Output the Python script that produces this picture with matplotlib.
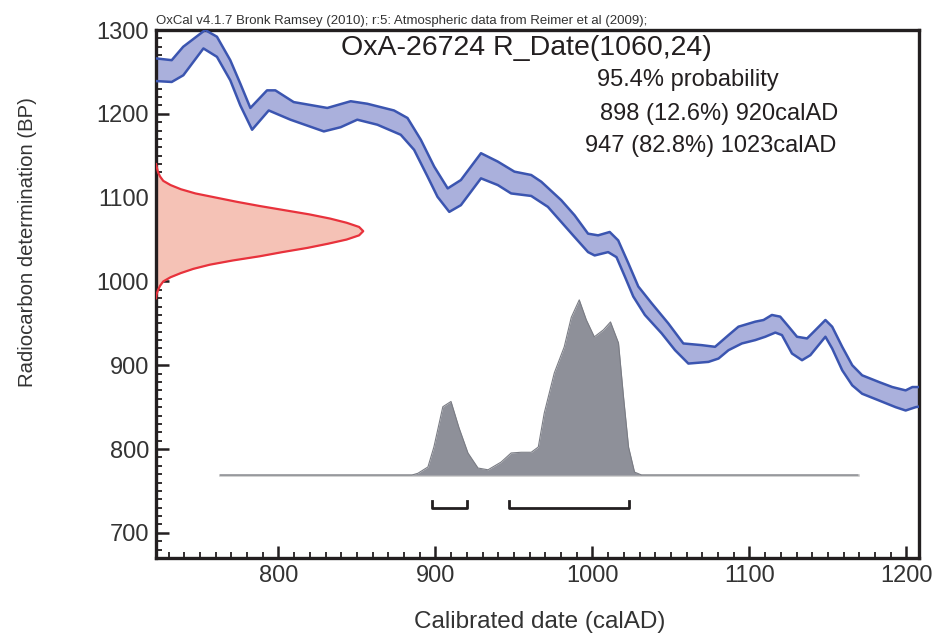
import numpy as np
import matplotlib
matplotlib.use("Agg")
from matplotlib import pyplot as plt
from matplotlib.ticker import MultipleLocator

plt.rcParams['font.family'] = ['Liberation Sans', 'DejaVu Sans']

# calibration curve (IntCal09), upper edge of the band
upper_year = [722.6, 732.0, 739.3, 753.3, 760.8, 769.3, 775.7, 782.1, 792.7, 798.0, 809.7, 831.1,
              846.0, 856.6, 865.1, 873.6, 882.2, 890.7, 899.2, 907.8, 916.2, 929.0, 939.7, 950.3,
              961.0, 967.4, 980.1, 988.6, 997.2, 1003.6, 1011.0, 1016.4, 1022.8, 1029.2, 1037.7,
              1048.3, 1057.9, 1069.6, 1078.1, 1086.7, 1093.0, 1103.7, 1109.0, 1114.3, 1119.6,
              1125.0, 1130.3, 1136.7, 1141.0, 1148.4, 1152.7, 1159.1, 1165.5, 1171.8, 1182.5,
              1191.0, 1199.5, 1203.8, 1209.1]
upper_bp = [1266, 1264, 1280, 1300, 1292, 1264, 1236, 1207, 1228, 1228, 1214, 1207,
            1215, 1212, 1208, 1204, 1195, 1169, 1137, 1111, 1121, 1153, 1143, 1131,
            1127, 1119, 1097, 1079, 1057, 1055, 1059, 1049, 1022, 994, 974,
            950, 926, 924, 922, 936, 946, 952, 954, 960, 958,
            946, 934, 932, 940, 954, 946, 922, 900, 888, 880,
            874, 870, 874, 874]

# lower edge of the band
lower_year = [722.6, 732.0, 739.4, 752.2, 760.8, 769.3, 775.7, 783.2, 793.8, 807.6, 828.9, 839.6,
              850.2, 863.0, 877.9, 886.4, 895.0, 901.3, 908.8, 916.2, 929.0, 939.7, 948.2, 961.0,
              971.6, 980.1, 988.6, 997.2, 1001.4, 1010.0, 1015.3, 1020.6, 1026.0, 1033.4, 1044.1,
              1052.6, 1061.1, 1073.9, 1080.3, 1086.7, 1095.2, 1103.7, 1110.1, 1116.5, 1120.7,
              1127.1, 1133.5, 1138.8, 1148.4, 1152.7, 1159.1, 1165.5, 1171.8, 1182.5, 1193.1,
              1199.5, 1205.9, 1209.1]
lower_bp = [1239, 1238, 1246, 1278, 1268, 1240, 1210, 1181, 1204, 1193, 1179, 1184,
            1193, 1187, 1175, 1157, 1125, 1101, 1083, 1091, 1123, 1115, 1105, 1102,
            1089, 1071, 1053, 1035, 1031, 1035, 1029, 1006, 982, 960, 938,
            918, 902, 904, 908, 918, 926, 930, 934, 939, 936,
            914, 906, 912, 934, 920, 894, 876, 866, 858, 850,
            846, 850, 851]

# radiocarbon measurement 1060 +/- 24 BP (relative probability)
rc_bp = [1140, 1135, 1130, 1125, 1120, 1115, 1110, 1105, 1100, 1095, 1090, 1085, 1080, 1075, 1070,
         1065, 1060, 1055, 1050, 1045, 1040, 1035, 1030, 1025, 1020, 1015, 1010, 1005, 1000,
         995, 990, 985, 980]
rc_prob = [0.0, 0.005, 0.01, 0.02, 0.035, 0.07, 0.12, 0.19, 0.29, 0.39, 0.50, 0.62, 0.74, 0.84, 0.92,
           0.98, 1.0, 0.98, 0.92, 0.83, 0.73, 0.61, 0.50, 0.37, 0.26, 0.18, 0.12, 0.07, 0.035,
           0.02, 0.01, 0.003, 0.0]

# calibrated date distribution (relative probability)
post_year = [763, 885, 888.8, 895.2, 899, 904.7, 909.9, 915, 920.7, 927.1, 933.5, 941.8, 948.2, 954.6, 961,
             965.5, 969.3, 975.7, 982, 986.5, 991.6, 996.1, 1001.2, 1007, 1011.5, 1016.6, 1019.8,
             1023, 1026.8, 1031.3, 1169]
post_prob = [0, 0, 0.01, 0.046, 0.16, 0.39, 0.42, 0.27, 0.126, 0.04, 0.03, 0.074, 0.126, 0.13, 0.13,
             0.16, 0.354, 0.583, 0.731, 0.90, 1.0, 0.886, 0.789, 0.829, 0.874, 0.754, 0.446,
             0.16, 0.017, 0, 0]

# 95.4% ranges
ranges = [(898, 920), (947, 1023)]
range_text = ["898 (12.6%) 920calAD", "947 (82.8%) 1023calAD"]

fig = plt.figure(figsize=(9.41, 6.37), dpi=100)
ax = fig.add_axes([0.1658, 0.124, 0.8108, 0.8289])

ax.set_xlim(722, 1208)
ax.set_ylim(670, 1300)

# calibration band
band_x = list(upper_year) + list(lower_year[::-1])
band_y = list(upper_bp) + list(lower_bp[::-1])
ax.fill(band_x, band_y, color="#aab0dc", lw=0, zorder=2)
ax.plot(upper_year, upper_bp, color="#3b55b0", lw=1.8, zorder=3, solid_joinstyle="round")
ax.plot(lower_year, lower_bp, color="#3b55b0", lw=1.8, zorder=3, solid_joinstyle="round")

# radiocarbon determination on the y axis
rc_x = 722 + np.array(rc_prob) * 132
ax.fill_betweenx(rc_bp, 722, rc_x, color="#f5c2b6", lw=0, zorder=2)
ax.plot(rc_x, rc_bp, color="#e8323c", lw=1.6, zorder=3)

# calibrated distribution
base = 769
post_y = base + np.array(post_prob) * 209
ax.plot([763, 1169], [base, base], color="#c4c4c4", lw=1.8, zorder=2)
ax.fill_between(post_year, base, post_y, color="#8e9099", lw=0, zorder=3)
ax.plot(post_year, post_y, color="#7a7c84", lw=0.8, zorder=3)

# range brackets
for a, b in ranges:
    ax.plot([a, a, b, b], [738, 730, 730, 738], color="#231f20", lw=2, zorder=4)

# texts
ax.text(0.0, 1.006, "OxCal v4.1.7 Bronk Ramsey (2010); r:5: Atmospheric data from Reimer et al (2009);",
        transform=ax.transAxes, fontsize=9.5, color="#333333", va="bottom", ha="left")
ax.text(0.486, 0.966, "OxA-26724 R_Date(1060,24)", transform=ax.transAxes, fontsize=20.5,
        color="#231f20", ha="center", va="center")
ax.text(0.578, 0.905, "95.4% probability", transform=ax.transAxes, fontsize=17,
        color="#231f20", ha="left", va="center")
ax.text(0.582, 0.841, range_text[0], transform=ax.transAxes, fontsize=17,
        color="#231f20", ha="left", va="center")
ax.text(0.562, 0.780, range_text[1], transform=ax.transAxes, fontsize=17,
        color="#231f20", ha="left", va="center")

ax.xaxis.set_major_locator(MultipleLocator(100))
ax.xaxis.set_minor_locator(MultipleLocator(10))
ax.yaxis.set_major_locator(MultipleLocator(100))
ax.yaxis.set_minor_locator(MultipleLocator(10))
ax.tick_params(which="both", direction="in", color="#231f20", top=False, right=False)
ax.tick_params(which="major", length=9, width=1.8, labelsize=17, labelcolor="#333333", pad=5)
ax.tick_params(which="minor", length=4.5, width=1.3)
for s in ax.spines.values():
    s.set_linewidth(2.4)
    s.set_color("#231f20")

ax.set_xlabel("Calibrated date (calAD)", fontsize=17.5, color="#333333", va="center")
ax.set_ylabel("Radiocarbon determination (BP)", fontsize=14.6, color="#333333", va="center")
ax.xaxis.set_label_coords(0.503, -0.121)
ax.yaxis.set_label_coords(-0.169, 0.598)

fig.savefig("out.png", dpi=100)
